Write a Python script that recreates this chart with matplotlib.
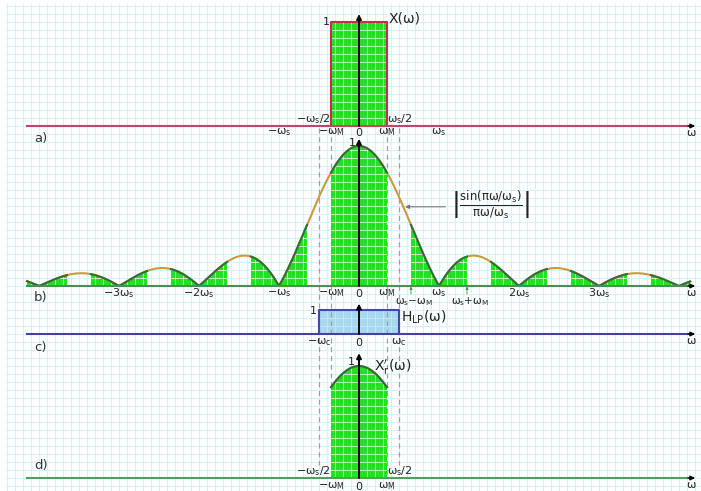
import numpy as np
import matplotlib.pyplot as plt
from matplotlib.collections import LineCollection
from matplotlib.patches import Polygon

plt.rcParams['mathtext.fontset'] = 'dejavusans'

# frequencies, measured in grid cells
ws = 10.0          # sampling frequency
wm = 3.5           # highest frequency of the signal
wc = ws / 2        # cut-off of the low-pass filter
w_lo, w_hi = -41.5, 42.0
images = [-4, -3, -2, -1, 0, 1, 2, 3, 4]

# panel baselines / unit heights (grid cells)
base = {'a': 44.0, 'b': 24.0, 'c': 18.0, 'd': 0.0}
unit = {'a': 13.0, 'b': 17.5, 'c': 3.0, 'd': 14.0}
tips = {'a': 58.0, 'b': 42.4, 'c': 21.8, 'd': 15.6}

# tick labels
a_ticks = [(-ws, '-w_s'), (-wm, '-w_M'), (0, '0'), (wm, 'w_M'), (ws, 'w_s')]
b_ticks = [(-3 * ws, '-3w_s'), (-2 * ws, '-2w_s'), (-ws, '-w_s'), (-wm, '-w_M'),
           (0, '0'), (wm, 'w_M'), (ws, 'w_s'), (2 * ws, '2w_s'), (3 * ws, '3w_s')]
b_marks = [(ws - wm, 'w_s{-}w_M'), (ws + wm, 'w_s{+}w_M')]
c_ticks = [(-wc, '-w_c'), (0, '0'), (wc, 'w_c')]
d_ticks = [(-wm, '-w_M'), (0, '0'), (wm, 'w_M')]

GREEN = '#1fe31f'
DARK = '#2f6e3c'
GOLD = '#c69c3e'
GRID = '#cdf5f7'
INK = '#222222'


def tex(s):
    """'-w_s' -> mathtext with an upright omega and upright subscripts."""
    out = ''
    i = 0
    while i < len(s):
        ch = s[i]
        if ch == 'w':
            out += r'\mathrm{\omega}'
        elif ch == '_':
            out += r'_\mathrm{' + s[i + 1] + '}'
            i += 1
        else:
            out += ch
        i += 1
    return '$' + out + '$'


def env(x):
    return np.abs(np.sinc(x / ws))


fig = plt.figure(figsize=(7.01, 4.91), dpi=100)
ax = fig.add_axes([0, 0, 1, 1])
x0, x1 = -359 / 8, (701 - 359) / 8
y0, y1 = (478 - 491) / 8, 478 / 8
ax.set_xlim(x0, x1)
ax.set_ylim(y0, y1)
ax.axis('off')

# graph paper
gx = np.arange(-44, 43)
gy = np.arange(-1, 60)
segs = [[(x, y0), (x, 59.4)] for x in gx] + [[(-44.3, y), (x1, y)] for y in gy]
ax.add_collection(LineCollection(segs, colors=GRID, linewidths=0.7, zorder=0))


def paper_inside(patch, color='white', alpha=0.8):
    lc = LineCollection(segs, colors=color, linewidths=0.6, alpha=alpha,
                        zorder=patch.get_zorder() + 0.05)
    ax.add_collection(lc)
    lc.set_clip_path(patch)


def region(xs, ys, b, color=GREEN, z=2.0):
    pts = [(xs[0], b)] + list(zip(xs, ys)) + [(xs[-1], b)]
    p = Polygon(pts, closed=True, facecolor=color, edgecolor='none', zorder=z)
    ax.add_patch(p)
    return p


# dashed guides at +-ws/2 and +-wm
for xv in (-ws / 2, ws / 2):
    ax.plot([xv, xv], [43.75, 1.6], color='#a0a0a0', lw=0.9, ls=(0, (4, 3)), zorder=1.5)
for xv in (-wm, wm):
    ax.plot([xv, xv], [43.75, 0.0], color='#a0a0a0', lw=0.9, ls=(0, (4, 3)), zorder=1.5)

# a) spectrum of the signal
b, h = base['a'], unit['a']
p = region([-wm, wm], [b + h, b + h], b)
paper_inside(p)
ax.plot([-wm, -wm, wm, wm], [b, b + h, b + h, b], color='#d0284f', lw=1.5, zorder=3)

# b) spectrum of the flat-top sampled signal
b, h = base['b'], unit['b']
xx = np.linspace(w_lo, 41.4, 2000)
ax.plot(xx, b + h * env(xx), color=GOLD, lw=1.5, zorder=3)
for k in images:
    lo = max(k * ws - wm, w_lo)
    hi = min(k * ws + wm, 41.4)
    xs = np.linspace(lo, hi, 200)
    p = region(xs, b + h * env(xs), b)
    paper_inside(p)
    ax.plot(xs, b + h * env(xs), color=DARK, lw=1.5, zorder=3.2)

# c) ideal low-pass filter
b, h = base['c'], unit['c']
p = region([-wc, wc], [b + h, b + h], b, color='#a6d9ee', z=1.2)
paper_inside(p, alpha=0.35)
ax.plot([-wc, -wc, wc, wc], [b, b + h, b + h, b], color='#4646b0', lw=1.5, zorder=3)

# d) reconstructed spectrum
b, h = base['d'], unit['d']
xs = np.linspace(-wm, wm, 300)
p = region(xs, b + h * env(xs), b)
paper_inside(p)
ax.plot(xs, b + h * env(xs), color=DARK, lw=1.6, zorder=3.2)

# frequency axes
axis_colors = {'a': '#c4426a', 'b': '#4f8a5a', 'c': '#4242a6', 'd': '#4fa060'}
for key, col in axis_colors.items():
    b = base[key]
    ax.plot([w_lo, w_hi - 0.3], [b, b], color=col, lw=1.5, zorder=3.5)
    ax.annotate('', xy=(w_hi, b), xytext=(w_hi - 0.9, b),
                arrowprops=dict(arrowstyle='-|>', color='black', lw=0.8,
                                mutation_scale=7, shrinkA=0, shrinkB=0), zorder=4)
    ax.text(41.6, b - 0.9, tex('w'), fontsize=8, color=INK, ha='center', va='center', zorder=5)
    ax.annotate('', xy=(0, tips[key]), xytext=(0, b),
                arrowprops=dict(arrowstyle='-|>', color='black', lw=1.4,
                                mutation_scale=7, shrinkA=0, shrinkB=0), zorder=4)

# panel letters
for key, yl in zip('abcd', (42.5, 22.5, 16.25, 1.5)):
    ax.text(-39.8, yl, key + ')', fontsize=9.5, color='#333333', ha='center', va='center')

lab = dict(fontsize=8, color=INK, ha='center', va='center', zorder=5)

# a) labels
for xv, s in a_ticks:
    ax.text(xv, base['a'] - (0.8 if 'M' in s or s == '0' else 0.7), tex(s), **lab)
ax.text(-wm - 0.05, base['a'] + 0.85, tex('-w_s/2'), fontsize=8, color=INK,
        ha='right', va='center', zorder=5)
ax.text(wm + 0.05, base['a'] + 0.85, tex('w_s/2'), fontsize=8, color=INK,
        ha='left', va='center', zorder=5)
ax.text(-wm - 0.15, base['a'] + unit['a'], '1', fontsize=8, color=INK, ha='right', va='center')
ax.text(wm + 0.2, base['a'] + unit['a'] + 0.4, 'X(ω)', fontsize=10, color=INK,
        ha='left', va='center')

# b) labels
for xv, s in b_ticks:
    ax.text(xv, base['b'] - 0.9, tex(s), **lab)
for xv, s in b_marks:
    ax.text(xv + 0.4, base['b'] - 1.95, tex(s), fontsize=7.5, color=INK,
            ha='center', va='center', zorder=5)
    ax.annotate('', xy=(xv, base['b'] - 0.05), xytext=(xv, base['b'] - 1.0),
                arrowprops=dict(arrowstyle='-|>', color='#2aa03a', lw=0.6,
                                mutation_scale=4, shrinkA=0, shrinkB=0), zorder=4)
ax.text(-0.45, base['b'] + unit['b'] + 0.4, '1', fontsize=8, color=INK, ha='right', va='center')
ax.annotate('', xy=(5.75, 33.9), xytext=(10.8, 33.9),
            arrowprops=dict(arrowstyle='-|>', color='#777777', lw=0.8,
                            mutation_scale=6, shrinkA=0, shrinkB=0), zorder=4)
ax.text(16.4, 34.2,
        r'$\left|\frac{\mathrm{sin}(\mathrm{\pi\omega}/\mathrm{\omega}_\mathrm{s})}'
        r'{\mathrm{\pi\omega}/\mathrm{\omega}_\mathrm{s}}\right|$',
        fontsize=12, color=INK, ha='center', va='center', zorder=5)

# c) labels
for xv, s in c_ticks:
    ax.text(xv, base['c'] - 1.0, tex(s), **lab)
ax.text(-wc - 0.25, base['c'] + unit['c'] - 0.1, '1', fontsize=8, color=INK,
        ha='right', va='center')
ax.text(wc + 0.3, base['c'] + 2.1, r'$\mathrm{H}_\mathrm{LP}(\mathrm{\omega})$', fontsize=10,
        color=INK, ha='left', va='center', zorder=5)

# d) labels
for xv, s in d_ticks:
    ax.text(xv, base['d'] - 1.0, tex(s), **lab)
ax.text(-wm - 0.05, base['d'] + 0.85, tex('-w_s/2'), fontsize=8, color=INK,
        ha='right', va='center', zorder=5)
ax.text(wm + 0.05, base['d'] + 0.85, tex('w_s/2'), fontsize=8, color=INK,
        ha='left', va='center', zorder=5)
ax.text(-0.5, base['d'] + unit['d'] + 0.5, '1', fontsize=8, color=INK, ha='right', va='center')
ax.text(1.9, base['d'] + unit['d'] - 0.2, r"$\mathrm{X}^{\prime}_\mathrm{r}(\mathrm{\omega})$",
        fontsize=10, color=INK, ha='left', va='center', zorder=5)

fig.savefig('out.png', dpi=100)
